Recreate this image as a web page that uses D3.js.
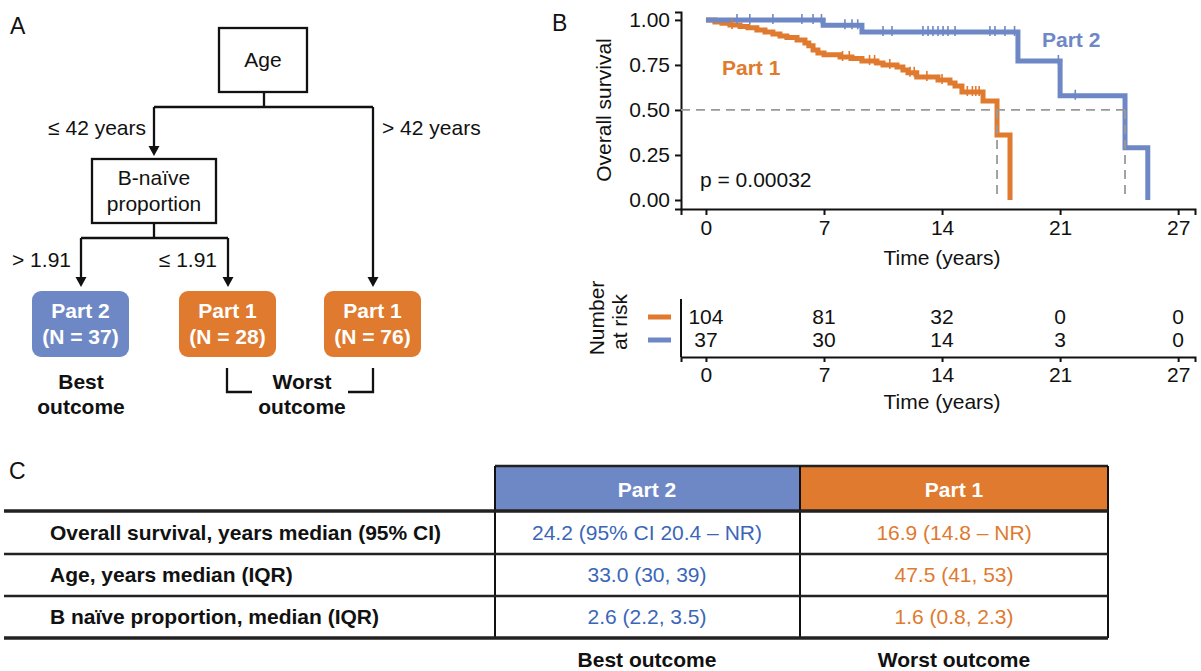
<!DOCTYPE html>
<html>
<head>
<meta charset="utf-8">
<script src="https://cdn.jsdelivr.net/npm/d3@7"></script>
<style>
  body { margin: 0; background: #fff; }
  svg { display: block; font-family: "Liberation Sans", Arial, Helvetica, sans-serif; }
</style>
</head>
<body>
<div id="figure"></div>
<script>
// ---- data ----
const blue = "#6e88c6";
const orange = "#e07a2f";

// Kaplan-Meier steps: [time (years), survival after the event]
const part1Steps = [
    [0, 1], [0.53, 0.989], [0.95, 0.981], [1.42, 0.972], [2.02, 0.963], [2.49, 0.956],
    [3.02, 0.944], [3.5, 0.933], [3.97, 0.922], [4.39, 0.911], [4.8, 0.903], [5.4, 0.889],
    [5.87, 0.872], [6.1, 0.856], [6.35, 0.833], [6.64, 0.817], [7.0, 0.806], [7.95, 0.794],
    [8.66, 0.786], [9.25, 0.772], [10.14, 0.761], [10.5, 0.75], [11.33, 0.739], [11.68, 0.722],
    [11.98, 0.706], [12.5, 0.683], [13.76, 0.667], [14.47, 0.65], [14.77, 0.633], [15.18, 0.6],
    [16.43, 0.55], [17.26, 0.361], [18.03, 0]
];
const part2Steps = [
    [0, 1], [6.95, 0.97], [9.25, 0.933], [18.5, 0.772], [21.0, 0.579], [24.85, 0.29], [26.2, 0]
];
// censoring times
const part1Censor = [1.55, 8.1, 8.5, 9.7, 10.0, 10.9, 12.1, 12.35, 13.1, 14.0, 15.5, 15.8, 16.0, 16.2];
const part2Censor = [1.84, 2.6, 3.97, 5.69, 6.35, 6.85, 8.24, 8.66, 9.0, 10.5, 11.03, 12.87, 13.17,
    13.46, 13.76, 14.06, 14.35, 14.77, 16.84, 17.14, 17.73, 18.3, 20.9, 21.9];
const medians = [17.26, 24.85];
const pValue = "p = 0.00032";

const timeTicks = [0, 7, 14, 21, 28];
const timeTickLabels = ["0", "7", "14", "21", "27"];
const survTicks = [0, 0.25, 0.5, 0.75, 1];
const riskPart1 = [104, 81, 32, 0, 0];
const riskPart2 = [37, 30, 14, 3, 0];

// table
const tableGroups = ["Part 2", "Part 1"];
const tableOutcomes = ["Best outcome", "Worst outcome"];
const tableRows = ["Overall survival, years median (95% CI)", "Age, years median (IQR)", "B naïve proportion, median (IQR)"];
const part2Values = ["24.2 (95% CI 20.4 – NR)", "33.0 (30, 39)", "2.6 (2.2, 3.5)"];
const part1Values = ["16.9 (14.8 – NR)", "47.5 (41, 53)", "1.6 (0.8, 2.3)"];

// tree leaves
const leafLabels = ["Part 2", "Part 1", "Part 1"];
const leafN = [37, 28, 76];

const FS = "21px";
const W = 1201, H = 671;
const svg = d3.select("#figure").append("svg")
    .attr("width", W)
    .attr("height", H);

svg.append("rect").attr("width", W).attr("height", H).attr("fill", "#fff");

// panel letters
const letters = [["A", 10, 34], ["B", 552, 31], ["C", 9, 479]];
svg.selectAll(".letter")
    .data(letters)
    .enter()
    .append("text")
    .attr("x", d => d[1])
    .attr("y", d => d[2])
    .style("font-size", "23px")
    .attr("fill", "#111")
    .text(d => d[0]);

// ================= A: decision tree =================
const tree = svg.append("g");
const lineCol = "#111";

function box(x0, y0, x1, y1) {
    tree.append("rect")
        .attr("x", x0).attr("y", y0)
        .attr("width", x1 - x0).attr("height", y1 - y0)
        .attr("fill", "#fff").attr("stroke", lineCol).attr("stroke-width", 2.3);
}
function seg(d) {
    tree.append("path").attr("d", d).attr("fill", "none")
        .attr("stroke", lineCol).attr("stroke-width", 2.3);
}
function arrow(x, y0, y1) {
    seg(`M${x},${y0}V${y1 - 9}`);
    tree.append("path")
        .attr("d", `M${x - 5.5},${y1 - 10}L${x + 5.5},${y1 - 10}L${x},${y1}Z`)
        .attr("fill", lineCol);
}
function label(x, y, txt, anchor, opts = {}) {
    return tree.append("text")
        .attr("x", x).attr("y", y)
        .attr("dy", "0.35em")
        .attr("text-anchor", anchor)
        .style("font-size", opts.size || FS)
        .style("font-weight", opts.bold ? "bold" : "normal")
        .attr("fill", opts.fill || "#111")
        .text(txt);
}

box(219, 28, 307, 92);
label(263, 60, "Age", "middle");
seg("M264,92V107M154,107H373");
arrow(154, 107, 156);
arrow(373, 107, 287);
label(146, 128, "≤ 42 years", "end");
label(382, 128, "> 42 years", "start");

box(92, 159, 216, 223);
label(154, 178, "B-naïve", "middle");
label(154, 204, "proportion", "middle");
seg("M154,223V238M81,238H228");
arrow(81, 238, 287);
arrow(228, 238, 287);
label(71, 260, "> 1.91", "end");
label(217, 260, "≤ 1.91", "end");

const leafX = [32, 179, 324];
leafX.forEach((x0, i) => {
    tree.append("rect")
        .attr("x", x0).attr("y", 291)
        .attr("width", 97).attr("height", 66)
        .attr("rx", 9)
        .attr("fill", leafLabels[i] === "Part 2" ? blue : orange);
    label(x0 + 48.5, 311, leafLabels[i], "middle", { bold: true, fill: "#fff" });
    label(x0 + 48.5, 337, `(N = ${leafN[i]})`, "middle", { bold: true, fill: "#fff" });
});
label(81, 382, "Best", "middle", { bold: true });
label(81, 407, "outcome", "middle", { bold: true });
seg("M227,368V392H252M348,392H373V368");
label(302, 382, "Worst", "middle", { bold: true });
label(302, 407, "outcome", "middle", { bold: true });

// ================= B: Kaplan-Meier =================
const x = d3.scaleLinear().domain([-1.48, 29]).range([681, 1195]);
const y = d3.scaleLinear().domain([-0.05, 1.044]).range([209, 12]);

const km = svg.append("g");

const xAxis = km.append("g")
    .attr("transform", "translate(0,209)")
    .call(d3.axisBottom(x).tickValues(timeTicks)
        .tickFormat((d, i) => timeTickLabels[i]).tickSizeOuter(0).tickSize(6).tickPadding(5));
const yAxis = km.append("g")
    .attr("transform", "translate(681,0)")
    .call(d3.axisLeft(y).tickValues(survTicks)
        .tickFormat(d3.format(".2f")).tickSizeOuter(0).tickSize(6).tickPadding(5));
[xAxis, yAxis].forEach(a => {
    a.select(".domain").attr("stroke", "#111").attr("stroke-width", 2);
    a.selectAll(".tick line").attr("stroke", "#111").attr("stroke-width", 2);
    a.selectAll(".tick text").style("font-size", FS).attr("fill", "#111")
        .style("font-family", "'Liberation Sans', Arial, sans-serif");
});

km.append("text")
    .attr("transform", "translate(611,110) rotate(-90)")
    .attr("text-anchor", "middle")
    .style("font-size", FS).attr("fill", "#111")
    .text("Overall survival");
km.append("text")
    .attr("x", x(14)).attr("y", 265)
    .attr("text-anchor", "middle")
    .style("font-size", FS).attr("fill", "#111")
    .text("Time (years)");

const stepLine = d3.line()
    .x(d => x(d[0]))
    .y(d => y(d[1]))
    .curve(d3.curveStepAfter);

function survAt(steps, t) {
    let s = 1;
    steps.forEach(d => { if (d[0] <= t) s = d[1]; });
    return s;
}

km.append("path").datum(part1Steps)
    .attr("d", stepLine).attr("fill", "none")
    .attr("stroke", orange).attr("stroke-width", 5).attr("stroke-linejoin", "miter");
km.append("path").datum(part2Steps)
    .attr("d", stepLine).attr("fill", "none")
    .attr("stroke", blue).attr("stroke-width", 5).attr("stroke-linejoin", "miter");

const censorSets = [[part1Censor, part1Steps, orange], [part2Censor, part2Steps, blue]];
censorSets.forEach(([times, steps, col]) => {
    km.selectAll(null)
        .data(times)
        .enter()
        .append("path")
        .attr("d", t => {
            const cx = x(t), cy = y(survAt(steps, t));
            return `M${cx - 4},${cy}H${cx + 4}M${cx},${cy - 6}V${cy + 4}`;
        })
        .attr("stroke", col).attr("stroke-width", 1.6).attr("fill", "none");
});

// median reference lines
km.append("path")
    .attr("d", `M${x(-1.48)},${y(0.5)}H${x(d3.max(medians))}` +
        medians.map(m => `M${x(m)},${y(0.5)}V${y(0)}`).join(""))
    .attr("fill", "none").attr("stroke", "#999").attr("stroke-width", 1.8)
    .attr("stroke-dasharray", "9,6");

km.append("text").attr("x", 1042).attr("y", 40).attr("dy", "0.35em")
    .style("font-size", FS).style("font-weight", "bold").attr("fill", blue).text("Part 2");
km.append("text").attr("x", 722).attr("y", 68).attr("dy", "0.35em")
    .style("font-size", FS).style("font-weight", "bold").attr("fill", orange).text("Part 1");
km.append("text").attr("x", 700).attr("y", 180).attr("dy", "0.35em")
    .style("font-size", FS).attr("fill", "#111").text(pValue);

// risk table
const risk = svg.append("g");
const rAxis = risk.append("g")
    .attr("transform", "translate(0,357)")
    .call(d3.axisBottom(x).tickValues(timeTicks)
        .tickFormat((d, i) => timeTickLabels[i]).tickSizeOuter(0).tickSize(5).tickPadding(5));
rAxis.select(".domain").attr("stroke", "#111").attr("stroke-width", 2);
rAxis.selectAll(".tick line").attr("stroke", "#111").attr("stroke-width", 2);
rAxis.selectAll(".tick text").style("font-size", FS).attr("fill", "#111")
    .style("font-family", "'Liberation Sans', Arial, sans-serif");
risk.append("path").attr("d", "M681,299V357").attr("stroke", "#111").attr("stroke-width", 2);

const riskRows = [[riskPart1, 317, orange], [riskPart2, 340, blue]];
riskRows.forEach(([vals, ry, col]) => {
    risk.selectAll(null)
        .data(vals)
        .enter()
        .append("text")
        .attr("x", (d, i) => x(timeTicks[i]))
        .attr("y", ry).attr("dy", "0.35em")
        .attr("text-anchor", "middle")
        .style("font-size", FS).attr("fill", "#111")
        .text(d => d);
    risk.append("rect").attr("x", 648).attr("y", ry - 2.5)
        .attr("width", 23).attr("height", 5).attr("fill", col);
});
risk.append("text")
    .attr("transform", "translate(597,318) rotate(-90)")
    .attr("text-anchor", "middle").attr("dy", "0.35em")
    .style("font-size", FS).attr("fill", "#111").text("Number");
risk.append("text")
    .attr("transform", "translate(620,322) rotate(-90)")
    .attr("text-anchor", "middle").attr("dy", "0.35em")
    .style("font-size", FS).attr("fill", "#111").text("at risk");
risk.append("text")
    .attr("x", x(14)).attr("y", 402).attr("dy", "0.35em")
    .attr("text-anchor", "middle")
    .style("font-size", FS).attr("fill", "#111")
    .text("Time (years)");

// ================= C: table =================
const tbl = svg.append("g");
const colEdges = [495, 800, 1108];
const colCenters = [647, 954];
const headerTop = 466, headerBot = 511;
const rowLines = [511, 554, 596, 638];
const textBlue = "#3b66b8";

tableGroups.forEach((g, i) => {
    tbl.append("rect")
        .attr("x", colEdges[i]).attr("y", headerTop)
        .attr("width", colEdges[i + 1] - colEdges[i]).attr("height", headerBot - headerTop)
        .attr("fill", g === "Part 2" ? blue : orange);
    tbl.append("text")
        .attr("x", colCenters[i]).attr("y", 490).attr("dy", "0.35em")
        .attr("text-anchor", "middle")
        .style("font-size", FS).style("font-weight", "bold").attr("fill", "#fff")
        .text(g);
    tbl.append("text")
        .attr("x", colCenters[i]).attr("y", 660).attr("dy", "0.35em")
        .attr("text-anchor", "middle")
        .style("font-size", FS).style("font-weight", "bold").attr("fill", "#111")
        .text(tableOutcomes[i]);
});
tbl.append("path").attr("d", `M495,${headerTop}H1108`).attr("stroke", "#222").attr("stroke-width", 2.5);
colEdges.forEach(cx => {
    tbl.append("path").attr("d", `M${cx},${headerTop}V638`).attr("stroke", "#111").attr("stroke-width", 2);
});
rowLines.forEach((ly, i) => {
    tbl.append("path").attr("d", `M4,${ly}H1108`)
        .attr("stroke", "#222").attr("stroke-width", i === 0 || i === 3 ? 3.5 : 2.5);
});
const rowCenters = [533, 575, 617];
tableRows.forEach((r, i) => {
    tbl.append("text")
        .attr("x", 50).attr("y", rowCenters[i]).attr("dy", "0.35em")
        .style("font-size", FS).style("font-weight", "bold").attr("fill", "#111")
        .text(r);
    tbl.append("text")
        .attr("x", colCenters[0]).attr("y", rowCenters[i]).attr("dy", "0.35em")
        .attr("text-anchor", "middle")
        .style("font-size", FS).attr("fill", textBlue)
        .text(part2Values[i]);
    tbl.append("text")
        .attr("x", colCenters[1]).attr("y", rowCenters[i]).attr("dy", "0.35em")
        .attr("text-anchor", "middle")
        .style("font-size", FS).attr("fill", orange)
        .text(part1Values[i]);
});
</script>
</body>
</html>
